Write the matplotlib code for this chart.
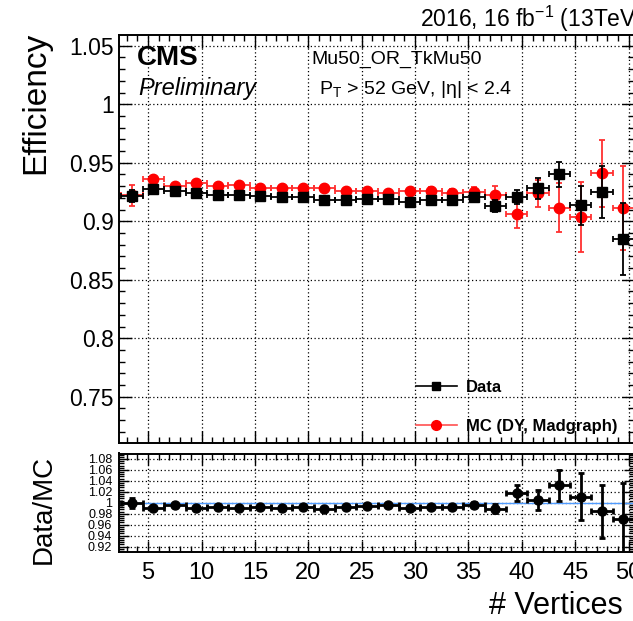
import numpy as np
import matplotlib
matplotlib.use("Agg")
import matplotlib.pyplot as plt
from matplotlib.lines import Line2D
from matplotlib.ticker import MultipleLocator

plt.rcParams['font.family'] = ['Liberation Sans', 'DejaVu Sans']
plt.rcParams['mathtext.fontset'] = 'custom'
plt.rcParams['mathtext.rm'] = 'Liberation Sans'
plt.rcParams['mathtext.it'] = 'Liberation Sans:italic'
plt.rcParams['mathtext.default'] = 'regular'

# number of vertices, bin centres (bins 2 wide)
vertices = [3.5, 5.5, 7.5, 9.5, 11.5, 13.5, 15.5, 17.5, 19.5, 21.5, 23.5, 25.5,
            27.5, 29.5, 31.5, 33.5, 35.5, 37.5, 39.5, 41.5, 43.5, 45.5, 47.5, 49.5]
bin_half = [1.0] * len(vertices)

eff_data = [0.9214, 0.9274, 0.9254, 0.9237, 0.9228, 0.9220, 0.9214, 0.9203,
            0.9208, 0.9185, 0.9180, 0.9190, 0.9188, 0.9165, 0.9180, 0.9180,
            0.9203, 0.9128, 0.9208, 0.9280, 0.9402, 0.9135, 0.9250, 0.8846]
err_data = [0.005, 0.002, 0.0015, 0.0015, 0.0015, 0.0015, 0.0015, 0.0015,
            0.0015, 0.0015, 0.0015, 0.0018, 0.002, 0.002, 0.0025, 0.003,
            0.004, 0.005, 0.006, 0.009, 0.0107, 0.017, 0.022, 0.031]

eff_mc = [0.9220, 0.9359, 0.9305, 0.9328, 0.9302, 0.9308, 0.9288, 0.9285,
          0.9288, 0.9288, 0.9260, 0.9260, 0.9242, 0.9260, 0.9260, 0.9242,
          0.9250, 0.9228, 0.9063, 0.9237, 0.9114, 0.9037, 0.9408, 0.9114]
err_mc = [0.009, 0.002, 0.002, 0.002, 0.002, 0.002, 0.002, 0.002,
          0.002, 0.002, 0.002, 0.0022, 0.0025, 0.0025, 0.003, 0.003,
          0.004, 0.007, 0.012, 0.0117, 0.021, 0.030, 0.029, 0.036]

ratio = [1.000, 0.991, 0.995, 0.990, 0.992, 0.990, 0.9928, 0.991,
         0.9915, 0.989, 0.9915, 0.9933, 0.995, 0.990, 0.9915, 0.9928,
         0.9964, 0.989, 1.0173, 1.0047, 1.0317, 1.0108, 0.9843, 0.970]
ratio_err = [0.009, 0.003, 0.003, 0.003, 0.003, 0.003, 0.003, 0.003,
             0.003, 0.003, 0.003, 0.003, 0.003, 0.003, 0.003, 0.004,
             0.005, 0.008, 0.0147, 0.018, 0.028, 0.043, 0.048, 0.066]

W, H = 633, 621
fig = plt.figure(figsize=(W / 100, H / 100), dpi=100)

def px_axes(left, top, right, bottom):
    return fig.add_axes([left / W, 1 - bottom / H, (right - left) / W, (bottom - top) / H])

ax = px_axes(119.3, 34.7, 634, 442.7)
rx = px_axes(119.3, 453.5, 634, 552)

# top panel: efficiencies
ax.errorbar(vertices, eff_mc, xerr=bin_half, yerr=err_mc, fmt='o', color='#ff3030',
            mfc='red', mec='red', ms=7.5, elinewidth=1.3, capsize=2, capthick=1.3, zorder=3)
ax.errorbar(vertices, eff_data, xerr=bin_half, yerr=err_data, fmt='s', color='black',
            ms=7.5, elinewidth=1.3, capsize=2, capthick=1.3, zorder=4)

ax.set_xlim(2.3, 50.5)
ax.set_ylim(0.7107, 1.0594)
ax.xaxis.set_major_locator(MultipleLocator(5))
ax.xaxis.set_minor_locator(MultipleLocator(1))
ax.yaxis.set_minor_locator(MultipleLocator(0.01))
ax.set_yticks([0.75, 0.8, 0.85, 0.9, 0.95, 1.0, 1.05])
ax.set_yticklabels(['0.75', '0.8', '0.85', '0.9', '0.95', '1', '1.05'])
ax.tick_params(axis='both', which='both', direction='in', top=True, right=True,
               labelbottom=False, width=1)
ax.tick_params(axis='y', which='major', length=9, labelsize=16.5, pad=4)
ax.tick_params(axis='y', which='minor', length=4.5)
ax.tick_params(axis='x', which='major', length=9)
ax.tick_params(axis='x', which='minor', length=4.5)
ax.grid(True, which='major', linestyle=(0, (1, 2)), color='black', linewidth=0.9)
for s in ax.spines.values():
    s.set_linewidth(1.4)

ax.text(0.034, 0.943, 'CMS', transform=ax.transAxes, fontsize=20, fontweight='bold',
        va='center', ha='left')
ax.text(0.036, 0.867, 'Preliminary', transform=ax.transAxes, fontsize=17, style='italic',
        va='center', ha='left')
ax.text(0.374, 0.940, 'Mu50_OR_TkMu50', transform=ax.transAxes, fontsize=14,
        va='center', ha='left')
ax.text(0.388, 0.866, r'P$_T$ > 52 GeV, |$\eta$| < 2.4', transform=ax.transAxes,
        fontsize=14, va='center', ha='left')

handles = [Line2D([], [], color='black', marker='s', ms=6, lw=1.2),
           Line2D([], [], color='#ff5050', marker='o', mfc='red', mec='red', ms=7, lw=1.2)]
ax.legend(handles, ['Data', 'MC (DY, Madgraph)'], loc='upper left',
          bbox_to_anchor=(0.5765, 0.153), frameon=False, borderpad=0, borderaxespad=0,
          handlelength=2.45, handletextpad=0.55, labelspacing=1.4,
          prop={'weight': 'bold', 'size': 12})

# bottom panel: ratio
rx.axhline(1.0, color='#4f9bff', lw=1.0, zorder=2)
rx.errorbar(vertices, ratio, xerr=bin_half, yerr=ratio_err, fmt='o', color='black',
            ms=6.5, elinewidth=2, capsize=2, capthick=2, zorder=4)
rx.set_xlim(2.3, 50.5)
rx.set_ylim(0.91, 1.09)
rx.xaxis.set_major_locator(MultipleLocator(5))
rx.xaxis.set_minor_locator(MultipleLocator(1))
rx.set_yticks([0.92, 0.94, 0.96, 0.98, 1.0, 1.02, 1.04, 1.06, 1.08])
rx.set_yticklabels(['0.92', '0.94', '0.96', '0.98', '1', '1.02', '1.04', '1.06', '1.08'])
rx.yaxis.set_minor_locator(MultipleLocator(0.004))
rx.tick_params(axis='both', which='both', direction='in', top=True, right=True, width=1)
rx.tick_params(axis='y', which='major', length=7, labelsize=9, pad=5)
rx.tick_params(axis='y', which='minor', length=3.5)
rx.tick_params(axis='x', which='major', length=8, labelsize=17, pad=7)
rx.tick_params(axis='x', which='minor', length=4)
rx.grid(True, which='major', linestyle=(0, (1, 2)), color='black', linewidth=0.9)
for s in rx.spines.values():
    s.set_linewidth(1.4)

# axis titles and header
fig.text(36 / W, 1 - 32 / H, 'Efficiency', rotation=90, ha='center', va='top', fontsize=24)
fig.text(44 / W, 1 - 455 / H, 'Data/MC', rotation=90, ha='center', va='top', fontsize=20)
fig.text(489 / W, 1 - 606 / H, '# Vertices', ha='left', va='center', fontsize=22)
fig.text(420 / W, 1 - 19 / H, r'2016, 16 fb$^{-1}$ (13TeV)', ha='left', va='center',
         fontsize=16.5)

fig.savefig('out.png', dpi=100)
